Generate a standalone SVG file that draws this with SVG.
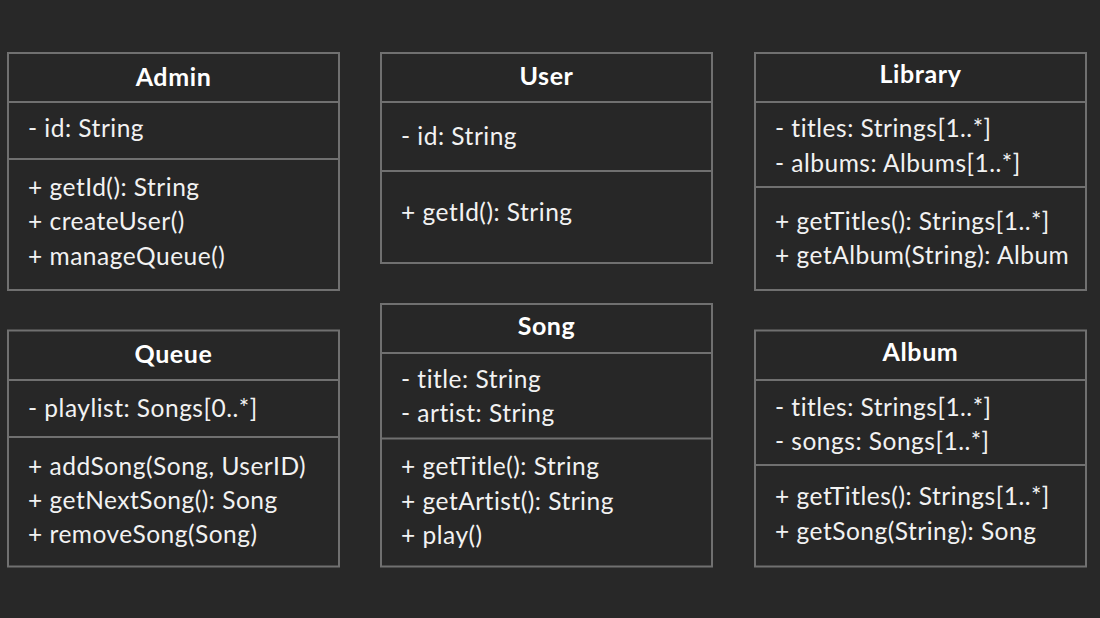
<svg xmlns="http://www.w3.org/2000/svg" width="1100" height="618" viewBox="0 0 1100 618">
<style>
.box{fill:#272727;stroke:#707070;stroke-width:2}
.div{stroke:#707070;stroke-width:2}
.t{font-family:Lato,"Open Sans",sans-serif;font-size:24.5px;letter-spacing:0.5px;fill:#f2f2f2}
.h{font-family:Lato,"Open Sans",sans-serif;font-size:25px;letter-spacing:0.6px;font-weight:bold;fill:#ffffff;text-anchor:middle}
</style>
<rect width="1100" height="618" fill="#282828"/>
<g id="connectors"></g>
<g id="Admin">
<rect class="box" x="8" y="53" width="331" height="237"/>
<line class="div" x1="8" y1="102" x2="339" y2="102"/>
<line class="div" x1="8" y1="159" x2="339" y2="159"/>
<text class="h" x="173.5" y="85.5">Admin</text>
<text class="t" x="28" y="136.5">- id: String</text>
<text class="t" x="28" y="196">+ getId(): String</text>
<text class="t" x="28" y="230">+ createUser()</text>
<text class="t" x="28" y="264.5">+ manageQueue()</text>
</g>
<g id="User">
<rect class="box" x="381" y="53" width="331" height="210"/>
<line class="div" x1="381" y1="102" x2="712" y2="102"/>
<line class="div" x1="381" y1="171" x2="712" y2="171"/>
<text class="h" x="546.5" y="85">User</text>
<text class="t" x="401" y="145">- id: String</text>
<text class="t" x="401" y="220.5">+ getId(): String</text>
</g>
<g id="Library">
<rect class="box" x="755" y="53" width="331" height="237"/>
<line class="div" x1="755" y1="102" x2="1086" y2="102"/>
<line class="div" x1="755" y1="187" x2="1086" y2="187"/>
<text class="h" x="920.5" y="82.5">Library</text>
<text class="t" x="775" y="137">- titles: Strings[1..*]</text>
<text class="t" x="775" y="171.5">- albums: Albums[1..*]</text>
<text class="t" x="775" y="230">+ getTitles(): Strings[1..*]</text>
<text class="t" x="775" y="264">+ getAlbum(String): Album</text>
</g>
<g id="Queue">
<rect class="box" x="8" y="330.5" width="331" height="236"/>
<line class="div" x1="8" y1="380" x2="339" y2="380"/>
<line class="div" x1="8" y1="437" x2="339" y2="437"/>
<text class="h" x="173.5" y="362.5">Queue</text>
<text class="t" x="28" y="416.5">- playlist: Songs[0..*]</text>
<text class="t" x="28" y="475">+ addSong(Song, UserID)</text>
<text class="t" x="28" y="509">+ getNextSong(): Song</text>
<text class="t" x="28" y="543">+ removeSong(Song)</text>
</g>
<g id="Song">
<rect class="box" x="381" y="304" width="331" height="262.5"/>
<line class="div" x1="381" y1="353" x2="712" y2="353"/>
<line class="div" x1="381" y1="438.5" x2="712" y2="438.5"/>
<text class="h" x="546.5" y="334.5">Song</text>
<text class="t" x="401" y="387.5">- title: String</text>
<text class="t" x="401" y="421.5">- artist: String</text>
<text class="t" x="401" y="475">+ getTitle(): String</text>
<text class="t" x="401" y="509.5">+ getArtist(): String</text>
<text class="t" x="401" y="544">+ play()</text>
</g>
<g id="Album">
<rect class="box" x="755" y="330.5" width="331" height="236"/>
<line class="div" x1="755" y1="380" x2="1086" y2="380"/>
<line class="div" x1="755" y1="465" x2="1086" y2="465"/>
<text class="h" x="920.5" y="360.5">Album</text>
<text class="t" x="775" y="415.5">- titles: Strings[1..*]</text>
<text class="t" x="775" y="450">- songs: Songs[1..*]</text>
<text class="t" x="775" y="505">+ getTitles(): Strings[1..*]</text>
<text class="t" x="775" y="540">+ getSong(String): Song</text>
</g>
</svg>
